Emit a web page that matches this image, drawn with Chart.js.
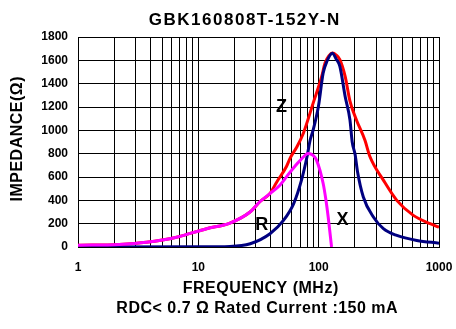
<!DOCTYPE html>
<html>
<head>
<meta charset="utf-8">
<script src="https://cdn.jsdelivr.net/npm/chart.js@4/dist/chart.umd.min.js"></script>
<style>
  html, body { margin: 0; padding: 0; background: #fff; }
  #wrap { width: 456px; height: 329px; }
</style>
</head>
<body>
<div id="wrap"><canvas id="chart"></canvas></div>
<script>
// ---------------- DATA ----------------
const titleText = "GBK160808T-152Y-N";
const xTitle = "FREQUENCY (MHz)";
const yTitle = "IMPEDANCE(Ω)";
const noteText = "RDC< 0.7 Ω Rated Current :150 mA";

const zFreq = [1, 2.2, 3.7, 6.6, 11.7, 18.3, 26.9, 32.6, 39.4, 45, 54, 57.8, 66, 74.6, 90, 106, 113, 122, 130, 140, 150, 166, 182, 206, 242, 267, 345, 446, 612, 844, 1000];
const zVals = [15, 22, 40, 84, 157, 205, 300, 390, 460, 560, 690, 760, 859, 975, 1233, 1462, 1577, 1640, 1662, 1645, 1606, 1462, 1250, 1089, 917, 773, 573, 400, 271, 200, 170];

const rFreq = [1, 2.2, 3.7, 6.6, 11.7, 18.3, 26.9, 32.6, 39.4, 47.6, 54, 62, 70, 82, 90, 96, 109, 115, 120, 128];
const rVals = [15, 22, 40, 84, 157, 205, 300, 390, 458, 530, 601, 680, 740, 802, 785, 745, 544, 400, 257, 0];

const xFreq = [1, 10, 18.3, 27, 39.4, 51, 62, 72, 80, 85, 90, 99.5, 109, 117, 130, 140, 150, 166, 182, 190, 201, 210, 235, 285, 345, 446, 654, 1000];
const xVals = [0, 2, 5, 28, 114, 228, 372, 573, 773, 917, 1003, 1204, 1491, 1590, 1660, 1610, 1548, 1290, 1089, 900, 790, 650, 429, 257, 157, 99, 56, 33];

// curve labels: [text, freq, impedance]
const curveLabels = [["Z", 49, 1200], ["R", 33.6, 185], ["X", 158, 228]];

const xTickLabels = [1, 10, 100, 1000];
const xGrid = [1, 2, 3, 4, 5, 6, 7, 8, 9, 10, 20, 30, 40, 50, 60, 70, 80, 90,
               100, 200, 300, 400, 500, 600, 700, 800, 900, 1000];

function pts(fs, vs) {
  return fs.map((f, i) => ({ x: f, y: vs[i] }));
}

// ---------------- TEXT PLUGIN ----------------
const font = "'Liberation Sans', Arial, sans-serif";

function spaced(ctx, text, x, y, size, spacing) {
  ctx.font = "bold " + size + "px " + font;
  ctx.letterSpacing = spacing + "px";
  ctx.fillText(text, x + spacing / 2, y);
}

const textPlugin = {
  id: "texts",
  afterDraw(chart) {
    const ctx = chart.ctx;
    const xs = chart.scales.x, ys = chart.scales.y;
    const area = chart.chartArea;
    ctx.save();
    ctx.fillStyle = "#000";
    ctx.textAlign = "center";
    ctx.textBaseline = "middle";
    spaced(ctx, titleText, 244, 20, 17, 1.5);
    spaced(ctx, xTitle, (area.left + area.right) / 2 + 2, 289, 16, 0.5);
    spaced(ctx, noteText, 257, 309, 16, 0.5);
    ctx.save();
    ctx.translate(18, (area.top + area.bottom) / 2 - 3);
    ctx.rotate(-Math.PI / 2);
    spaced(ctx, yTitle, 0, 0, 16, 0.5);
    ctx.restore();
    ctx.letterSpacing = "0px";
    ctx.font = "bold 18px " + font;
    curveLabels.forEach(l => {
      ctx.fillText(l[0], xs.getPixelForValue(l[1]), ys.getPixelForValue(l[2]));
    });
    ctx.restore();
  }
};

// ---------------- CHART ----------------
new Chart(document.getElementById("chart"), {
  type: "line",
  data: {
    datasets: [
      { label: "R", data: pts(rFreq, rVals), borderColor: "#ff00ff" },
      { label: "X", data: pts(xFreq, xVals), borderColor: "#000080" },
      { label: "Z", data: pts(zFreq, zVals), borderColor: "#ff0000" }
    ]
  },
  options: {
    responsive: true,
    maintainAspectRatio: false,
    animation: false,
    layout: { padding: { top: 37, left: 4, right: 17, bottom: 0 } },
    elements: {
      point: { radius: 0 },
      line: { borderWidth: 3, cubicInterpolationMode: "monotone", fill: false }
    },
    plugins: {
      legend: { display: false },
      title: { display: false },
      tooltip: { enabled: false }
    },
    scales: {
      x: {
        type: "logarithmic",
        min: 1,
        max: 1000,
        afterBuildTicks(scale) {
          scale.ticks = xGrid.map(v => ({ value: v }));
        },
        afterFit(scale) {
          scale.height = 82;
          scale.paddingLeft = 0;
          scale.paddingRight = 0;
        },
        grid: { color: "#000", lineWidth: 1, drawTicks: false },
        border: { color: "#000", width: 1 },
        ticks: {
          autoSkip: false,
          maxRotation: 0,
          padding: 13,
          color: "#000",
          font: { family: font, size: 12, weight: "bold" },
          callback: v => (xTickLabels.includes(v) ? String(v) : "")
        }
      },
      y: {
        min: 0,
        max: 1800,
        afterFit(scale) {
          scale.width = 74;
          scale.paddingTop = 0;
          scale.paddingBottom = 0;
        },
        grid: { color: "#000", lineWidth: 1, drawTicks: false },
        border: { color: "#000", width: 1 },
        ticks: {
          stepSize: 200,
          padding: 10,
          color: "#000",
          font: { family: font, size: 12, weight: "bold" },
          callback: v => String(v)
        }
      }
    }
  },
  plugins: [textPlugin]
});
</script>
</body>
</html>
